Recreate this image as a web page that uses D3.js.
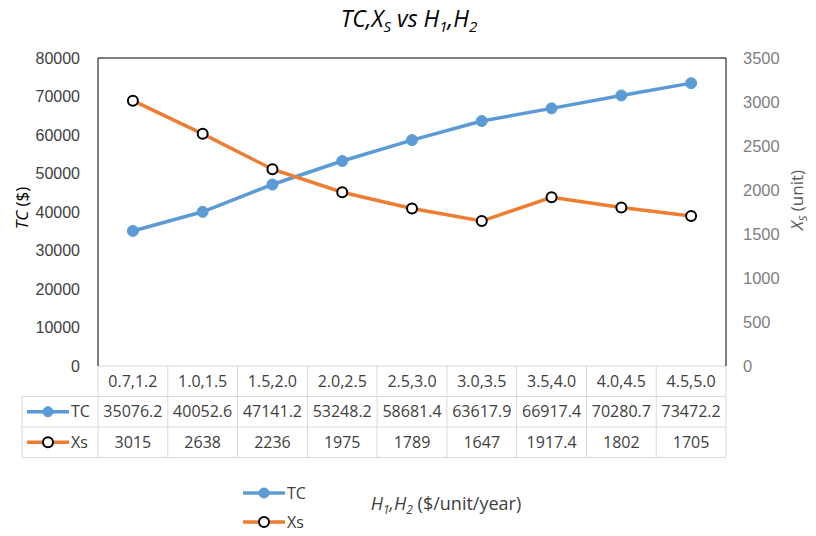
<!DOCTYPE html>
<html>
<head>
<meta charset="utf-8">
<script src="https://cdn.jsdelivr.net/npm/d3@7"></script>
<style>
  body { margin: 0; background: #fff; }
  svg { font-family: "Open Sans", "Liberation Sans", sans-serif; }
</style>
</head>
<body>
<div id="chart"></div>
<script>
// data
var categories = ["0.7,1.2", "1.0,1.5", "1.5,2.0", "2.0,2.5", "2.5,3.0", "3.0,3.5", "3.5,4.0", "4.0,4.5", "4.5,5.0"];
var tcValues = [35076.2, 40052.6, 47141.2, 53248.2, 58681.4, 63617.9, 66917.4, 70280.7, 73472.2];
var xsValues = [3015, 2638, 2236, 1975, 1789, 1647, 1917.4, 1802, 1705];
var tcLabels = ["35076.2", "40052.6", "47141.2", "53248.2", "58681.4", "63617.9", "66917.4", "70280.7", "73472.2"];
var xsLabels = ["3015", "2638", "2236", "1975", "1789", "1647", "1917.4", "1802", "1705"];
var leftTicks = [0, 10000, 20000, 30000, 40000, 50000, 60000, 70000, 80000];
var rightTicks = [0, 500, 1000, 1500, 2000, 2500, 3000, 3500];

var blue = "#5b9bd5", orange = "#ed7d31";
var W = 816, H = 536;
var pLeft = 98, pRight = 726, pTop = 58, pBottom = 366;
var rowH = 30.5;

var svg = d3.select("#chart").append("svg")
    .attr("width", W)
    .attr("height", H);

var x = d3.scaleBand().domain(categories).range([pLeft, pRight]);
var yL = d3.scaleLinear().domain([0, 80000]).range([pBottom, pTop]);
var yR = d3.scaleLinear().domain([0, 3500]).range([pBottom, pTop]);

// title
var title = svg.append("text")
    .attr("x", 409).attr("y", 27)
    .attr("text-anchor", "middle")
    .style("font-size", "23px").style("font-style", "italic").attr("fill", "#000");
title.append("tspan").text("TC,X");
title.append("tspan").attr("dy", 5).style("font-size", "15px").text("S");
title.append("tspan").attr("dy", -5).text(" vs H");
title.append("tspan").attr("dy", 5).style("font-size", "15px").text("1");
title.append("tspan").attr("dy", -5).text(",H");
title.append("tspan").attr("dy", 5).style("font-size", "15px").text("2");

// left axis
var axL = svg.append("g")
    .attr("transform", "translate(" + pLeft + ",0)")
    .call(d3.axisLeft(yL).tickValues(leftTicks).tickSize(0).tickPadding(18).tickFormat(d3.format("d")));
axL.select(".domain").remove();
axL.selectAll("text").style("font-size", "16px").attr("fill", "#404040");

// right axis
var axR = svg.append("g")
    .attr("transform", "translate(" + pRight + ",0)")
    .call(d3.axisRight(yR).tickValues(rightTicks).tickSize(0).tickPadding(17).tickFormat(d3.format("d")));
axR.select(".domain").remove();
axR.selectAll("text").style("font-size", "16.5px").attr("fill", "#7f7f7f");

// axis titles
var lt = svg.append("text")
    .attr("transform", "translate(28,208) rotate(-90)")
    .attr("text-anchor", "middle").style("font-size", "17px").attr("fill", "#000");
lt.append("tspan").style("font-style", "italic").text("TC");
lt.append("tspan").text(" ($)");

var rt = svg.append("text")
    .attr("transform", "translate(803,200) rotate(-90)")
    .attr("text-anchor", "middle").style("font-size", "17px").attr("fill", "#595959");
rt.append("tspan").style("font-style", "italic").text("X");
rt.append("tspan").attr("dy", 4).style("font-size", "11px").style("font-style", "italic").text("S");
rt.append("tspan").attr("dy", -4).text(" (unit)");

// data table grid
var grid = svg.append("g").attr("stroke", "#d9d9d9").attr("stroke-width", 1);
var tLeft = 22, tBottom = pBottom + 3 * rowH;
grid.append("line").attr("x1", pLeft).attr("x2", pRight).attr("y1", pBottom).attr("y2", pBottom);
[pBottom + rowH, pBottom + 2 * rowH, tBottom].forEach(function(yy) {
  grid.append("line").attr("x1", tLeft).attr("x2", pRight).attr("y1", yy).attr("y2", yy);
});
grid.append("line").attr("x1", tLeft).attr("x2", tLeft).attr("y1", pBottom + rowH).attr("y2", tBottom);
categories.forEach(function(c) {
  grid.append("line").attr("x1", x(c)).attr("x2", x(c)).attr("y1", pBottom).attr("y2", tBottom);
});
grid.append("line").attr("x1", pRight).attr("x2", pRight).attr("y1", pBottom).attr("y2", tBottom);

// plot frame: left, top, right in black
svg.append("path")
    .attr("d", "M" + pLeft + "," + pBottom + "V" + pTop + "H" + pRight + "V" + pBottom)
    .attr("fill", "none").attr("stroke", "#000").attr("stroke-width", 1);

function rowText(labels, row) {
  svg.append("g").selectAll("text").data(labels).enter().append("text")
      .attr("x", function(d, i) { return x(categories[i]) + x.bandwidth() / 2; })
      .attr("y", pBottom + row * rowH + rowH / 2)
      .attr("dy", "0.35em")
      .attr("text-anchor", "middle")
      .style("font-size", "16px").attr("fill", "#404040")
      .text(function(d) { return d; });
}
rowText(categories, 0);
rowText(tcLabels, 1);
rowText(xsLabels, 2);

// legend keys
function key(g, cx, cy, color, filled, label) {
  g.append("line").attr("x1", cx - 21).attr("x2", cx + 21).attr("y1", cy).attr("y2", cy)
      .attr("stroke", color).attr("stroke-width", 3.5);
  g.append("circle").attr("cx", cx).attr("cy", cy).attr("r", 5)
      .attr("fill", filled ? color : "#fff")
      .attr("stroke", filled ? color : "#000").attr("stroke-width", filled ? 1 : 2);
  g.append("text").attr("x", cx + 23).attr("y", cy).attr("dy", "0.35em")
      .style("font-size", "16px").attr("fill", "#404040").text(label);
}
key(svg, 48, pBottom + 1.5 * rowH, blue, true, "TC");
key(svg, 48, pBottom + 2.5 * rowH, orange, false, "Xs");

// series lines
var cx = function(d, i) { return x(categories[i]) + x.bandwidth() / 2; };
var lineTC = d3.line().x(cx).y(function(d) { return yL(d); });
var lineXS = d3.line().x(cx).y(function(d) { return yR(d); });

svg.append("path").datum(tcValues).attr("d", lineTC)
    .attr("fill", "none").attr("stroke", blue).attr("stroke-width", 3.5);
svg.append("path").datum(xsValues).attr("d", lineXS)
    .attr("fill", "none").attr("stroke", orange).attr("stroke-width", 3.5);

svg.append("g").selectAll("circle").data(tcValues).enter().append("circle")
    .attr("cx", cx)
    .attr("cy", function(d) { return yL(d); })
    .attr("r", 5.5).attr("fill", blue).attr("stroke", blue);
svg.append("g").selectAll("circle").data(xsValues).enter().append("circle")
    .attr("cx", cx)
    .attr("cy", function(d) { return yR(d); })
    .attr("r", 5).attr("fill", "#fff").attr("stroke", "#000").attr("stroke-width", 2);

// bottom legend
key(svg, 264, 493, blue, true, "TC");
key(svg, 264, 522, orange, false, "Xs");

// x axis title
var xt = svg.append("text")
    .attr("x", 446).attr("y", 510)
    .attr("text-anchor", "middle").style("font-size", "18px").attr("fill", "#404040");
xt.append("tspan").style("font-style", "italic").text("H");
xt.append("tspan").attr("dy", 4).style("font-size", "12px").style("font-style", "italic").text("1");
xt.append("tspan").attr("dy", -4).style("font-style", "italic").text(",H");
xt.append("tspan").attr("dy", 4).style("font-size", "12px").style("font-style", "italic").text("2");
xt.append("tspan").attr("dy", -4).text(" ($/unit/year)");
</script>
</body>
</html>
